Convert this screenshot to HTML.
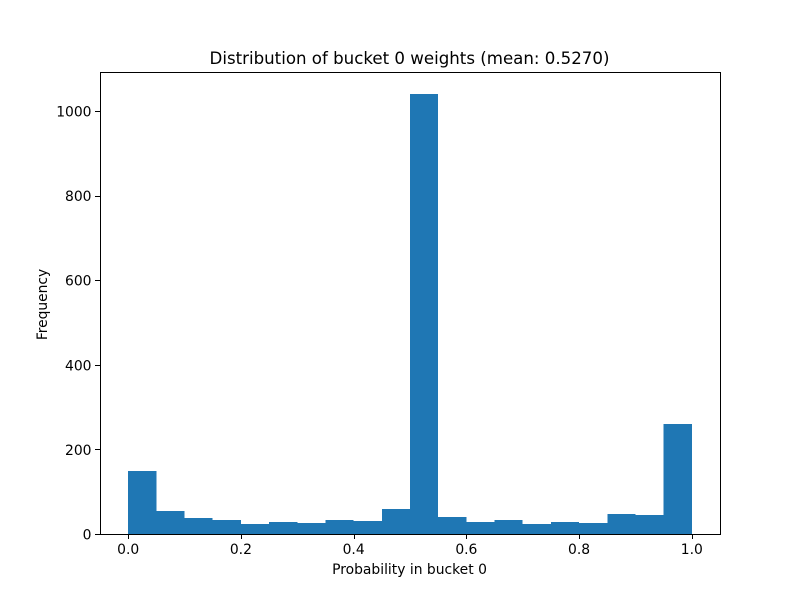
<!DOCTYPE html>
<html>
<head>
<meta charset="utf-8">
<title>Distribution of bucket 0 weights</title>
<style>
html,body{margin:0;padding:0;background:#fff;}
svg{display:block;}
text{font-family:"DejaVu Sans",sans-serif;fill:#000;}
</style>
</head>
<body>
<svg id="chart" width="800" height="600" viewBox="0 0 800 600" xmlns="http://www.w3.org/2000/svg">
<rect x="0" y="0" width="800" height="600" fill="#ffffff"/>
<g id="bars"></g>
<g id="xticks"></g>
<g id="yticks"></g>
<g stroke="#000" stroke-width="1" fill="none" shape-rendering="crispEdges">
<line x1="100.5" y1="72" x2="100.5" y2="535"/>
<line x1="720.5" y1="72" x2="720.5" y2="535"/>
<line x1="100" y1="72.5" x2="721" y2="72.5"/>
<line x1="100" y1="534.5" x2="721" y2="534.5"/>
</g>
<text x="409.5" y="64" text-anchor="middle" font-size="16.64">Distribution of bucket 0 weights (mean: 0.5270)</text>
<text x="409.5" y="574" text-anchor="middle" font-size="13.89">Probability in bucket 0</text>
<text transform="translate(47,304.5) rotate(-90)" text-anchor="middle" font-size="13.8">Frequency</text>
</svg>
<script>
const binEdgesStart = 0;
const binWidth = 0.05;
const frequencies = [149, 54, 38, 33, 24, 28, 26, 33, 31, 59, 1040, 40, 28, 33, 24, 28, 26, 47, 45, 260];
const xTickValues = [0, 0.2, 0.4, 0.6, 0.8, 1.0];
const xTickLabels = ["0.0", "0.2", "0.4", "0.6", "0.8", "1.0"];
const yTickValues = [0, 200, 400, 600, 800, 1000];
const yTickLabels = ["0", "200", "400", "600", "800", "1000"];

const plot = { left: 100, right: 720, top: 72, bottom: 534 };
const xMin = -0.05, xMax = 1.05;
const yMax = Math.max.apply(null, frequencies) * 1.05;
const NS = "http://www.w3.org/2000/svg";

function xScale(v) {
  return plot.left + (v - xMin) / (xMax - xMin) * (plot.right - plot.left);
}
function yScale(v) {
  return plot.bottom - v / yMax * (plot.bottom - plot.top);
}

const barsGroup = document.getElementById("bars");
frequencies.forEach(function (f, i) {
  const x0 = xScale(binEdgesStart + i * binWidth);
  const x1 = xScale(binEdgesStart + (i + 1) * binWidth);
  const el = document.createElementNS(NS, "rect");
  
  
  el.setAttribute("x", x0);
  el.setAttribute("y", yScale(f));
  el.setAttribute("width", x1 - x0);
  el.setAttribute("height", plot.bottom - yScale(f));
  el.setAttribute("fill", "#1f77b4");
  el.setAttribute("shape-rendering", "crispEdges");
  barsGroup.appendChild(el);
});

const xGroup = document.getElementById("xticks");
xTickValues.forEach(function (v, i) {
  const x = Math.round(xScale(v)) + 0.5;
  const tick = document.createElementNS(NS, "line");
  
  
  tick.setAttribute("x1", x);
  tick.setAttribute("x2", x);
  tick.setAttribute("y1", plot.bottom);
  tick.setAttribute("y2", plot.bottom + 5);
  tick.setAttribute("stroke", "#000");
  tick.setAttribute("stroke-width", "1");
  tick.setAttribute("shape-rendering", "crispEdges");
  xGroup.appendChild(tick);
  const label = document.createElementNS(NS, "text");
  
  
  label.setAttribute("x", xScale(v));
  label.setAttribute("y", plot.bottom + 20);
  label.setAttribute("text-anchor", "middle");
  label.setAttribute("font-size", "13.89");
  label.textContent = xTickLabels[i];
  xGroup.appendChild(label);
});

const yGroup = document.getElementById("yticks");
yTickValues.forEach(function (v, i) {
  const y = Math.round(yScale(v)) + 0.5;
  const tick = document.createElementNS(NS, "line");
  
  
  tick.setAttribute("x1", plot.left - 5);
  tick.setAttribute("x2", plot.left);
  tick.setAttribute("y1", y);
  tick.setAttribute("y2", y);
  tick.setAttribute("stroke", "#000");
  tick.setAttribute("stroke-width", "1");
  tick.setAttribute("shape-rendering", "crispEdges");
  yGroup.appendChild(tick);
  const label = document.createElementNS(NS, "text");
  
  
  label.setAttribute("x", plot.left - 8.5);
  label.setAttribute("y", yScale(v) + 5.5);
  label.setAttribute("text-anchor", "end");
  label.setAttribute("font-size", "13.89");
  label.textContent = yTickLabels[i];
  yGroup.appendChild(label);
});
</script>
</body>
</html>
